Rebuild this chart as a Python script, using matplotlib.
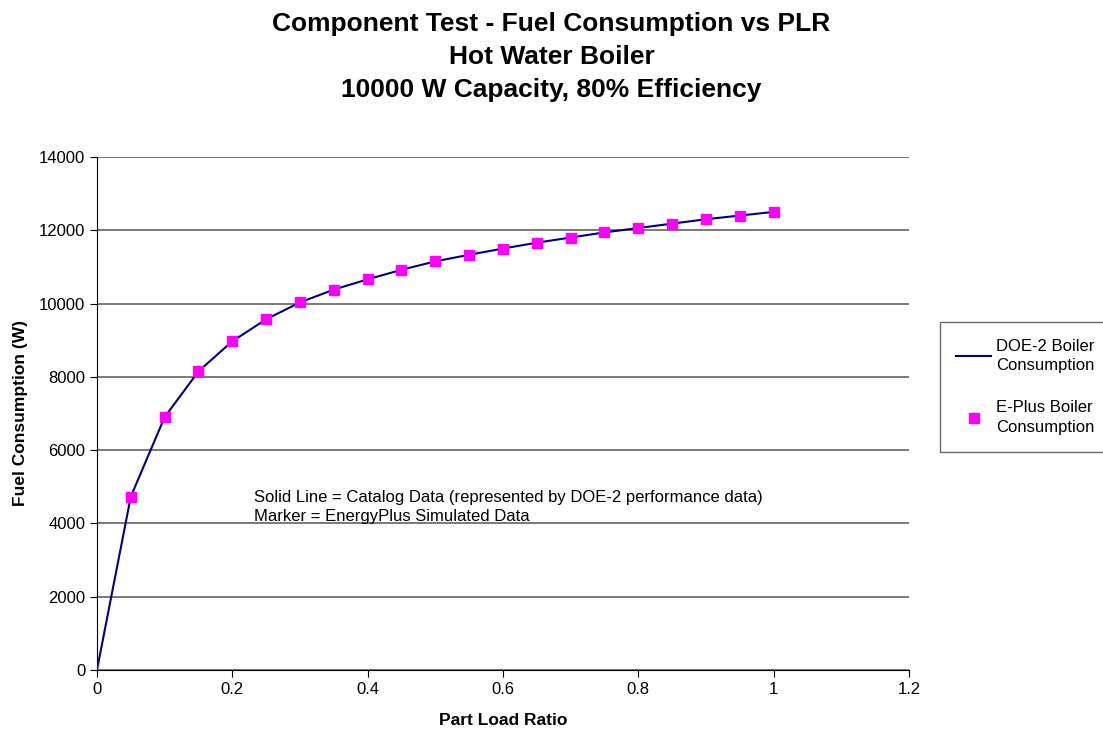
import matplotlib.pyplot as plt
from matplotlib.lines import Line2D

# part load ratio and fuel consumption (W)
plr = [0.0, 0.05, 0.1, 0.15, 0.2, 0.25, 0.3, 0.35, 0.4, 0.45, 0.5,
       0.55, 0.6, 0.65, 0.7, 0.75, 0.8, 0.85, 0.9, 0.95, 1.0]
doe2 = [0, 4730, 6900, 8150, 8970, 9570, 10030, 10380, 10660, 10920, 11150,
        11330, 11500, 11660, 11800, 11940, 12060, 12180, 12300, 12400, 12500]
eplus_plr = plr[1:]
eplus = doe2[1:]

title = "Component Test - Fuel Consumption vs PLR\nHot Water Boiler\n10000 W Capacity, 80% Efficiency"
note = "Solid Line = Catalog Data (represented by DOE-2 performance data)\nMarker = EnergyPlus Simulated Data"

plt.rcParams['font.family'] = ['Liberation Sans', 'DejaVu Sans']

fig = plt.figure(figsize=(11.03, 7.34), dpi=100)
ax = fig.add_axes([0.0879, 0.0872, 0.7362, 0.6990])

ax.plot(plr, doe2, color='#000080', lw=1.5, zorder=3)
ax.plot(eplus_plr, eplus, ls='none', marker='s', ms=7.8, color='#FF00FF', zorder=4)

ax.set_xlim(0, 1.2)
ax.set_ylim(0, 14000)
ax.set_xticks([0, 0.2, 0.4, 0.6, 0.8, 1.0, 1.2])
ax.set_xticklabels(['0', '0.2', '0.4', '0.6', '0.8', '1', '1.2'])
ax.set_yticks(range(0, 14001, 2000))
ax.yaxis.grid(True, color='#555555', lw=1.1)
ax.set_axisbelow(True)
for s in ['top', 'right']:
    ax.spines[s].set_visible(False)
ax.tick_params(direction='out', length=5, labelsize=12, colors='black')

ax.set_xlabel('Part Load Ratio', fontsize=12.5, fontweight='bold', labelpad=12)
ax.set_ylabel('Fuel Consumption (W)', fontsize=12.5, fontweight='bold', labelpad=8)

ax.text(0.232, 4450, note, fontsize=12, va='center', ha='left', linespacing=1.4)

fig.text(0.5, 0.983, title, ha='center', va='top', fontsize=19, fontweight='bold',
         linespacing=1.45)

handles = [Line2D([], [], color='#000080', lw=1.5),
           Line2D([], [], ls='none', marker='s', ms=7.5, color='#FF00FF')]
leg = fig.legend(handles, ['DOE-2 Boiler\nConsumption', 'E-Plus Boiler\nConsumption'],
                 loc='upper left', bbox_to_anchor=(0.852, 0.5613), fontsize=12,
                 frameon=True, fancybox=False, edgecolor='#444444',
                 labelspacing=1.6, handlelength=2.1, handletextpad=0.3,
                 borderpad=1.0, borderaxespad=0)
for t in leg.get_texts():
    t.set_linespacing(1.4)
leg.get_frame().set_linewidth(1.0)

fig.savefig('out.png', dpi=100)
